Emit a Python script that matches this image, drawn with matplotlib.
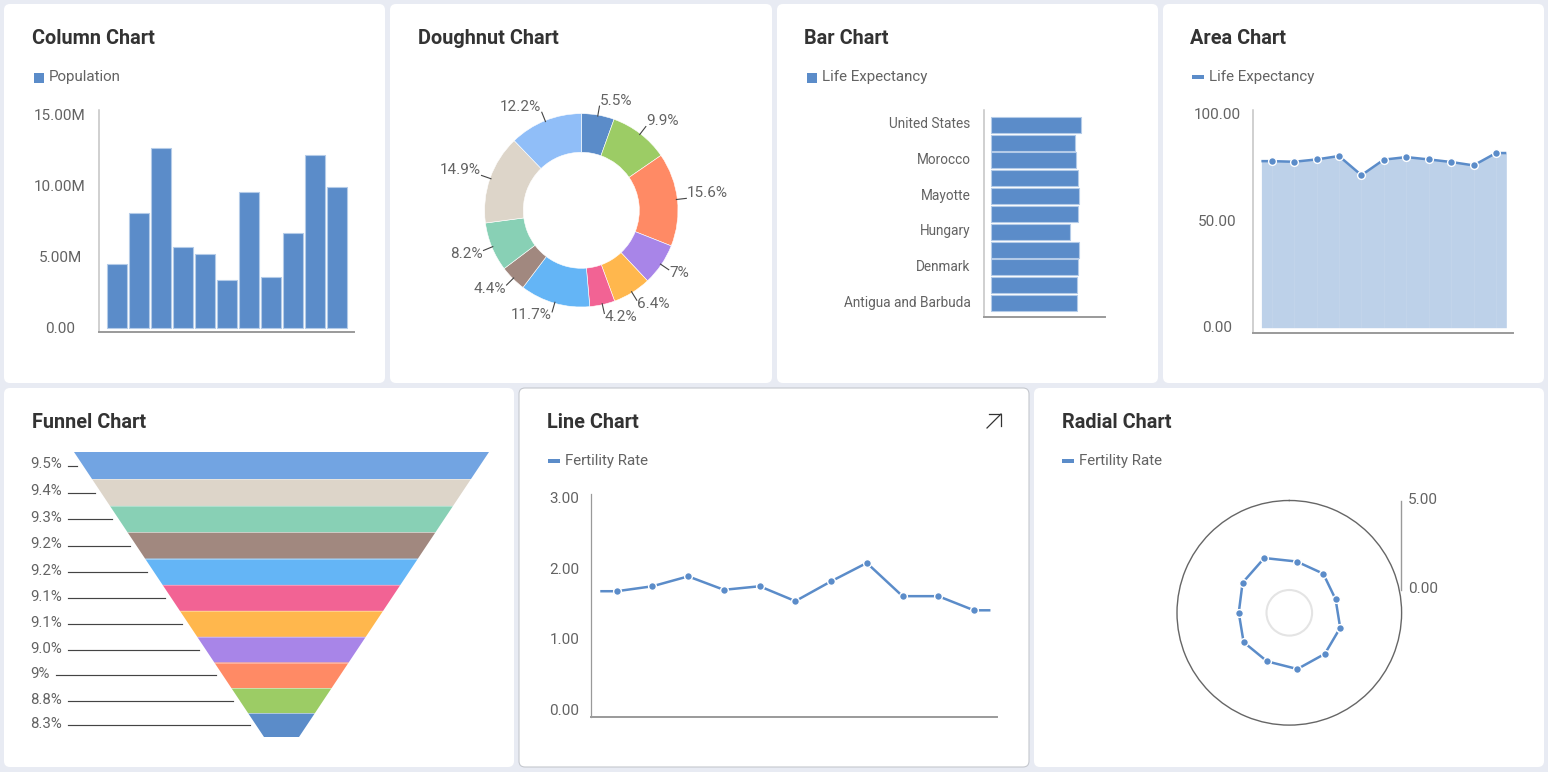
import numpy as np
import matplotlib
matplotlib.use("Agg")
import matplotlib.pyplot as plt
from matplotlib.patches import FancyBboxPatch, Rectangle
from matplotlib.transforms import ScaledTranslation

plt.rcParams['font.family'] = ['Roboto', 'DejaVu Sans']

# ---------- data ----------
population = [4.49, 8.10, 12.65, 5.68, 5.19, 3.38, 9.56, 3.59, 6.67, 12.16, 9.91]
population_ticks = [0, 5, 10, 15]
population_ticklabels = ['0.00', '5.00M', '10.00M', '15.00M']

donut_values = [5.5, 9.9, 15.6, 7, 6.4, 4.2, 11.7, 4.4, 8.2, 14.9, 12.2]
donut_labels = ['5.5%', '9.9%', '15.6%', '7%', '6.4%', '4.2%', '11.7%', '4.4%', '8.2%', '14.9%', '12.2%']
donut_colors = ['#5b8cc9', '#9ccc65', '#ff8a65', '#a885e8', '#ffb74d', '#f26394',
                '#64b5f6', '#a1887f', '#88d0b5', '#ddd5c9', '#90bef8']

life_expectancy = [78.2, 77.9, 79.0, 80.6, 71.6, 78.9, 80.1, 79.0, 77.8, 76.2, 82.0]
life_ticks = [0, 50, 100]
life_ticklabels = ['0.00', '50.00', '100.00']
bar_ticklabels = ['Antigua and Barbuda', '', 'Denmark', '', 'Hungary', '', 'Mayotte', '', 'Morocco', '', 'United States']

funnel_values = [9.5, 9.4, 9.3, 9.2, 9.2, 9.1, 9.1, 9.0, 9.0, 8.8, 8.3]
funnel_labels = ['9.5%', '9.4%', '9.3%', '9.2%', '9.2%', '9.1%', '9.1%', '9.0%', '9%', '8.8%', '8.3%']
funnel_colors = ['#72a4e2', '#ddd5c9', '#88d0b5', '#a1887f', '#64b5f6', '#f26394',
                 '#ffb74d', '#a885e8', '#ff8a65', '#9ccc65', '#5b8cc9']

fertility = [1.69, 1.76, 1.90, 1.71, 1.76, 1.55, 1.83, 2.09, 1.62, 1.62, 1.42]
fertility_ticks = [0, 1, 2, 3]
fertility_ticklabels = ['0.00', '1.00', '2.00', '3.00']
radial_ticks = [0, 5]
radial_ticklabels = ['0.00', '5.00']

# ---------- style ----------
W, H = 1548, 772
BLUE = '#5b8cc9'
TITLE = '#333333'
LABEL = '#636363'
TICK_FS = 11.0
LEG_FS = 10.9
TITLE_FS = 14.3
EDGE = 0.46

fig = plt.figure(figsize=(W / 100, H / 100), dpi=100, facecolor='#e8ebf3')
bg = fig.add_axes([0, 0, 1, 1])
bg.set_xlim(0, W)
bg.set_ylim(H, 0)
bg.axis('off')


def card(l, t, r, b, border=None):
    bg.add_patch(FancyBboxPatch((l + 6, t + 6), r - l - 12, b - t - 12,
                                boxstyle='round,pad=6,rounding_size=6',
                                fc='white', ec=border or 'none', lw=0.8))


def head(x, y, title):
    bg.text(x, y + 1.5, title, fontsize=TITLE_FS, fontweight='bold', color=TITLE, ha='left', va='center')


def legend(x, y, label, square):
    if square:
        bg.add_patch(Rectangle((x, y - 3), 10, 10, fc=BLUE, ec='none'))
        bg.text(x + 15, y + 0.6, label, fontsize=LEG_FS, color=LABEL, ha='left', va='center')
    else:
        bg.add_patch(Rectangle((x, y - 1), 11.5, 4, fc=BLUE, ec='none'))
        bg.text(x + 17, y + 0.6, label, fontsize=LEG_FS, color=LABEL, ha='left', va='center')


def box(l, t, r, b, **kw):
    return fig.add_axes([l / W, 1 - b / H, (r - l) / W, (b - t) / H], facecolor='none', **kw)


def cartesian(l, t, r, b, x0, kx, y0, ky, left_c='#c4c4c4', left_w=1.1):
    ax = box(l, t, r, b)
    ax.set_xlim((l - x0) / kx, (r - x0) / kx)
    ax.set_ylim((y0 - b) / ky, (y0 - t) / ky)
    for s in ('top', 'right'):
        ax.spines[s].set_visible(False)
    ax.spines['left'].set_color(left_c)
    ax.spines['left'].set_linewidth(left_w)
    ax.spines['bottom'].set_color('#9a9a9a')
    ax.spines['bottom'].set_linewidth(1.4)
    ax.set_xticks([])
    return ax


def nudge(ax, dy_px):
    for lab in ax.get_yticklabels():
        lab.set_transform(lab.get_transform() + ScaledTranslation(0, -dy_px / 100, fig.dpi_scale_trans))


def yticks(ax, ticks, labels, center_px, dy=0):
    ax.set_yticks(ticks)
    ax.set_yticklabels(labels, ha='center', fontsize=TICK_FS, color=LABEL)
    ax.tick_params(axis='y', length=0, pad=center_px * 0.72)
    nudge(ax, dy)


def line_markers(ax, x, y):
    ax.plot(x, y, color=BLUE, lw=1.8, marker='o', ms=5.6, mfc=BLUE, mec='white', mew=1.0,
            clip_on=False, markevery=list(range(1, len(x) - 1)), solid_capstyle='butt')


# ---------- cards ----------
for c in [(4, 4, 385, 383), (390, 4, 772, 383), (777, 4, 1158, 383), (1163, 4, 1544, 383),
          (4, 388, 514, 767), (1034, 388, 1544, 767)]:
    card(*c)
card(519, 388, 1029, 767, border='#c5c8ce')

head(32, 37, 'Column Chart')
head(418, 37, 'Doughnut Chart')
head(804, 37, 'Bar Chart')
head(1190, 37, 'Area Chart')
head(32, 421, 'Funnel Chart')
head(547, 421, 'Line Chart')
head(1062, 421, 'Radial Chart')

legend(34, 76, 'Population', True)
legend(807, 76, 'Life Expectancy', True)
legend(1192, 76, 'Life Expectancy', False)
legend(548, 460, 'Fertility Rate', False)
legend(1062, 460, 'Fertility Rate', False)

# expand icon on the line card
bg.plot([987, 1001], [428, 414], color='#333333', lw=0.9)
bg.plot([989, 1001, 1001], [414, 414, 426], color='#333333', lw=0.9)

# ---------- column ----------
ax = cartesian(99, 110, 354, 332, 117.3, 22, 328, 14.2)
ax.bar(range(len(population)), population, width=20 / 22, color=BLUE, edgecolor='#b4cbe8', linewidth=0.8)
yticks(ax, population_ticks, population_ticklabels, 39, dy=-0.7)

# ---------- doughnut ----------
cx, cy, R, r_in, span = 581.3, 210.3, 96.7, 58.0, 170
ax = box(cx - span, cy - span, cx + span, cy + span)
ax.pie(donut_values, colors=donut_colors, radius=R, startangle=90, counterclock=False,
       wedgeprops=dict(width=R - r_in, edgecolor='white', linewidth=0.4))
ax.set_xlim(-span, span)
ax.set_ylim(-span, span)
frac = np.cumsum(donut_values) - np.array(donut_values) / 2
for f, lab in zip(frac / np.sum(donut_values) * 2 * np.pi, donut_labels):
    sx, cs = np.sin(f), np.cos(f)
    ax.plot([sx * (R - 1), sx * (R + 9)], [cs * (R - 1), cs * (R + 9)], color='#444444', lw=0.8)
    ax.text(sx * (R + 9) + (0.5 if sx > 0 else -0.5), cs * (R + 9) + (5.5 if cs > 0 else -3.5), lab,
            fontsize=11.0, color=LABEL, va='center', ha='left' if sx > 0 else 'right')

# ---------- bar ----------
ax = cartesian(983.5, 110, 1105, 316.5, 990.7, 1.1016, 303, 17.83)
ax.barh(range(len(life_expectancy)), life_expectancy, height=16 / 17.83, color=BLUE,
        edgecolor='#b4cbe8', linewidth=0.8)
ax.set_yticks(range(len(bar_ticklabels)))
ax.set_yticklabels(bar_ticklabels, fontsize=9.85, color=LABEL)
ax.tick_params(axis='y', length=0, pad=9.2)
nudge(ax, -2)

# ---------- area ----------
ax = cartesian(1253.3, 110, 1512.7, 332.5, 1271.7, 22.43, 327.7, 2.13)
xs = np.arange(len(life_expectancy))
xe = np.r_[-EDGE, xs, xs[-1] + EDGE]
ye = np.r_[life_expectancy[0], life_expectancy, life_expectancy[-1]]
ax.fill_between(xe, 0, ye, color=BLUE, alpha=0.4, lw=0)
ax.vlines(xs, 0, life_expectancy, color='white', lw=0.5, alpha=0.12)
line_markers(ax, xe, ye)
yticks(ax, life_ticks, life_ticklabels, 36, dy=-1.2)

# ---------- funnel ----------
total = sum(funnel_values)
hw0, hw1 = 207.5, 17.5
ax = box(74, 452, 489, 737)
ax.set_xlim(-hw0, hw0)
ax.set_ylim(total, 0)
ax.axis('off')
cum = np.r_[0, np.cumsum(funnel_values)]
half = hw0 + (hw1 - hw0) * cum / total
for i, col in enumerate(funnel_colors):
    ax.fill([-half[i], half[i], half[i + 1], -half[i + 1]], [cum[i], cum[i], cum[i + 1], cum[i + 1]],
            color=col, lw=0)
    if i:
        ax.plot([-half[i], half[i]], [cum[i], cum[i]], color='white', lw=0.4, alpha=0.6)
    mid = (cum[i] + cum[i + 1]) / 2
    edge = hw0 + (hw1 - hw0) * mid / total
    start = -hw0 + (68 if len(funnel_labels[i]) > 2 else 56) - 74
    ax.plot([start, -edge - 6.5], [mid, mid], color='#444444', lw=0.85, clip_on=False)
    ax.text(-hw0 - 43.5, mid - 0.4, funnel_labels[i], fontsize=10.8, color=LABEL,
            ha='left', va='center', clip_on=False)

# ---------- line ----------
ax = cartesian(591.3, 494, 997.3, 717, 616.7, 35.73, 710.7, 70.7, left_c='#9a9a9a', left_w=0.9)
xs = np.arange(len(fertility))
xe = np.r_[-EDGE, xs, xs[-1] + EDGE]
ye = np.r_[fertility[0], fertility, fertility[-1]]
line_markers(ax, xe, ye)
yticks(ax, fertility_ticks, fertility_ticklabels, 27, dy=-1)

# ---------- radial ----------
cx, cy, R, r0 = 1289.3, 612.8, 112.3, 22.8
k = (R - r0) / 5
ax = box(cx - R, cy - R, cx + R, cy + R, projection='polar')
ax.set_theta_zero_location('N')
ax.set_theta_direction(-1)
ax.set_rlim(0, 5)
ax.set_rorigin(-r0 / k)
ax.grid(False)
ax.set_xticks([])
ax.set_yticks([])
ax.spines['polar'].set_color('#666666')
ax.spines['polar'].set_linewidth(1.0)
ax.spines['inner'].set_color('#e4e4e4')
ax.spines['inner'].set_linewidth(1.5)
theta = np.deg2rad(106.4 + np.arange(len(fertility)) * 360 / len(fertility))
ax.plot(np.r_[theta, theta[0]], np.r_[fertility, fertility[0]], color=BLUE, lw=1.8, marker='o',
        ms=5.6, mfc=BLUE, mec='white', mew=1.0)

ax = box(1401.3, cy - R, 1401.3, cy - r0)
ax.set_ylim(0, 5)
ax.set_xticks([])
for s in ('top', 'left', 'bottom'):
    ax.spines[s].set_visible(False)
ax.spines['right'].set_color('#9a9a9a')
ax.spines['right'].set_linewidth(1.0)
ax.yaxis.tick_right()
ax.set_yticks(radial_ticks)
ax.set_yticklabels(radial_ticklabels, fontsize=TICK_FS, color=LABEL)
ax.tick_params(axis='y', length=0, pad=5)
nudge(ax, -2.4)

fig.savefig('out.png', dpi=100, facecolor=fig.get_facecolor())
